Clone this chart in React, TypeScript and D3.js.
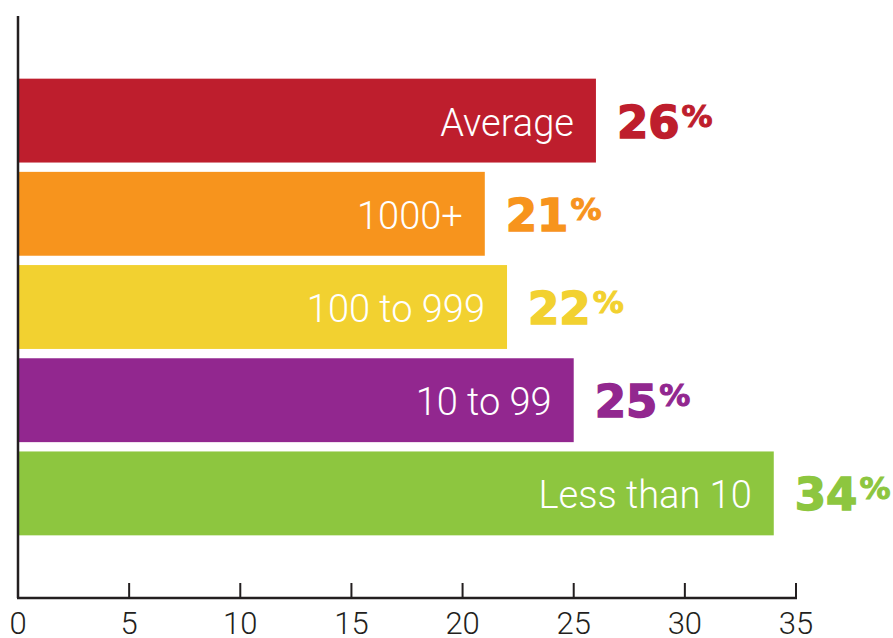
import React from "react";
import * as d3 from "d3";

const categories = ["Average", "1000+", "100 to 999", "10 to 99", "Less than 10"];
const values = [26, 21, 22, 25, 34];
const colors = ["#BE1E2D", "#F7941D", "#F2D130", "#92278F", "#8DC63F"];
const xTicks = [0, 5, 10, 15, 20, 25, 30, 35];

const W = 893;
const H = 638;

export default function App() {
  const x = d3.scaleLinear().domain([0, 35]).range([18, 796]);
  const y = d3
    .scaleBand<string>()
    .domain(categories)
    .range([74, 540])
    .paddingInner(0.1)
    .paddingOuter(0.05);
  const axisY = 598;
  const bw = y.bandwidth();
  return (
    <svg
      width={W}
      height={H}
      style={{ position: "absolute", left: 0, top: 0, background: "#fff" }}
    >
      {categories.map((c, i) => {
        const y0 = y(c)!;
        const cy = y0 + bw / 2;
        const xe = x(values[i]);
        return (
          <g key={c}>
            <rect x={x(0)} y={y0} width={xe - x(0)} height={bw} fill={colors[i]} />
            <text
              x={xe - 22}
              y={cy + 15}
              textAnchor="end"
              fill="#fff"
              fontFamily="Roboto, 'Liberation Sans', sans-serif"
              fontWeight={300}
              fontSize={38}
            >
              {c}
            </text>
            <text
              x={xe + 21}
              y={cy + 17}
              fill={colors[i]}
              stroke={colors[i]}
              strokeWidth={1.5}
              fontFamily="'DejaVu Sans', sans-serif"
              fontWeight={700}
              fontSize={45}
            >
              {values[i]}
              <tspan fontSize={31} dx={2} dy={-11} strokeWidth={1}>
                %
              </tspan>
            </text>
          </g>
        );
      })}
      <line x1={18} x2={18} y1={16} y2={axisY} stroke="#231F20" strokeWidth={2.5} />
      <line x1={17} x2={797} y1={axisY} y2={axisY} stroke="#231F20" strokeWidth={2.5} />
      {xTicks.map((t) => (
        <g key={t}>
          {t > 0 && (
            <line x1={x(t)} x2={x(t)} y1={583} y2={axisY} stroke="#231F20" strokeWidth={2} />
          )}
          <text
            x={x(t)}
            y={634}
            textAnchor="middle"
            fill="#231F20"
            fontFamily="Roboto, 'Liberation Sans', sans-serif"
            fontWeight={300}
            fontSize={31}
          >
            {t}
          </text>
        </g>
      ))}
    </svg>
  );
}
